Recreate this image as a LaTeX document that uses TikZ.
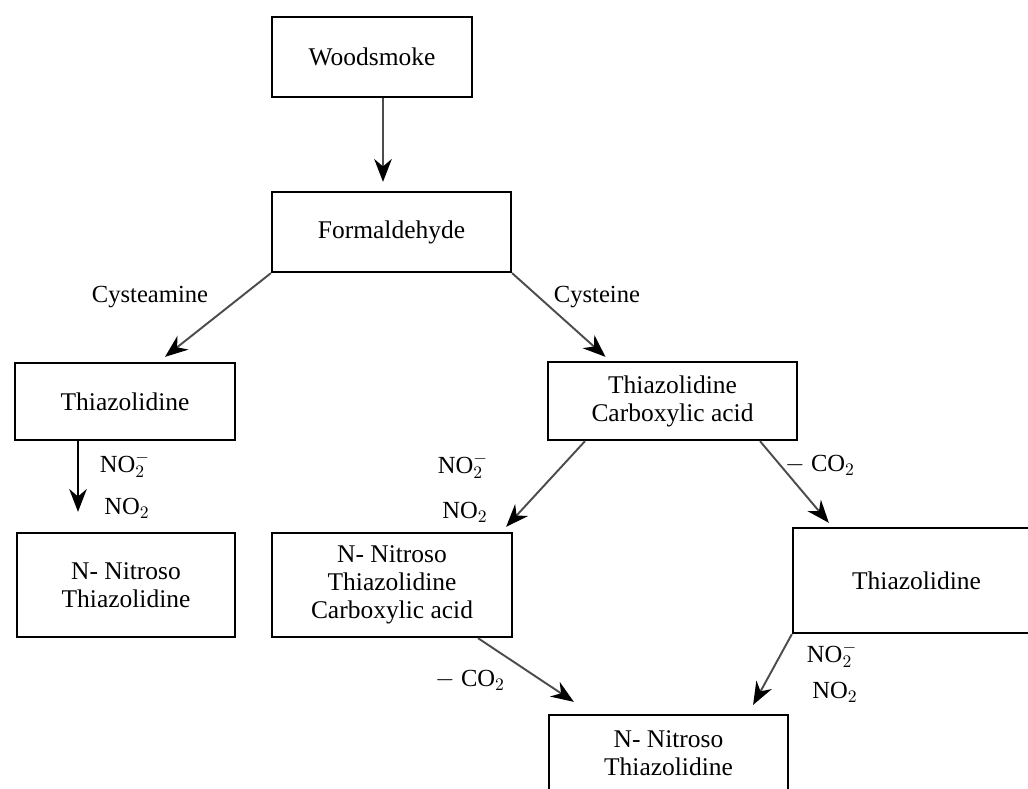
\documentclass[tikz,border=0pt]{standalone}
\usepackage{fontspec}
\setmainfont{Liberation Serif}
\usetikzlibrary{calc,arrows.meta}
\begin{document}
\begin{tikzpicture}[
    x = 0.02cm,
    y = -0.02cm,
    >={Stealth[length=13pt,width=10pt,color=black]},
    box/.style = {draw, line width=1.3pt, align=center, inner sep=0pt,
              font=\fontsize{14.5}{16}\selectfont},
    lbl/.style = {font=\fontsize{14}{16}\selectfont, inner sep=1pt},
    flow/.style = {->, draw=black!70, line width=1.1pt},
    ]

\useasboundingbox (0,0) rectangle (1028,788);

% boxes
\node[box, minimum width=4cm, minimum height=1.6cm] (wood) at (372,57) {Woodsmoke};
\node[box, minimum width=4.78cm, minimum height=1.6cm] (form) at (391.5,232) {Formaldehyde};
\node[box, minimum width=4.4cm, minimum height=1.54cm] (thzL) at (125,401.5) {Thiazolidine};
\node[box, minimum width=4.98cm, minimum height=1.56cm] (thca) at (672.5,401) {Thiazolidine\\Carboxylic acid};
\node[box, minimum width=4.36cm, minimum height=2.08cm] (nntL) at (126,585) {N- Nitroso\\Thiazolidine};
\node[box, minimum width=4.8cm, minimum height=2.08cm] (nntca) at (392,585) {N- Nitroso\\Thiazolidine\\Carboxylic acid};
\node[box, minimum width=4.94cm, minimum height=2.1cm] (thzR) at (916.5,580.5) {Thiazolidine};
\node[box, minimum width=4.78cm, minimum height=1.54cm] (nntB) at (668.5,753.5) {N- Nitroso\\Thiazolidine};

% labels
\node[lbl] (cyst1) at (150,297) {Cysteamine};
\node[lbl] (cyst2) at (597,297) {Cysteine};
\node[lbl] (nitL1) at (125,465) {NO$_2^-$};
\node[lbl] (nitL2) at (127,508) {NO$_2$};
\node[lbl] (nitM1) at (463,466) {NO$_2^-$};
\node[lbl] (nitM2) at (465,512) {NO$_2$};
\node[lbl] (decR) at (820,465) {$-$ CO$_2$};
\node[lbl] (nitR1) at (832,655) {NO$_2^-$};
\node[lbl] (nitR2) at (835,692) {NO$_2$};
\node[lbl] (decM) at (470,680) {$-$ CO$_2$};

% arrows
\draw[flow] ($(wood.south)+(11,0)$) -- ($(form.north)+(-8.5,-9)$);
\draw[flow] (form.south west) -- ($(thzL.north)+(40,-5)$);
\draw[flow] (form.south east) -- ($(thca.north)+(-67,-4)$);
\draw[flow, draw=black] ($(thzL.south)+(-47,0)$) -- ($(nntL.north)+(-48,-20)$);
\draw[flow] ($(thca.south)+(-87.5,0)$) -- ($(nntca.north east)+(-7,-5)$);
\draw[flow] ($(thca.south)+(87.5,0)$) -- ($(thzR.north west)+(37,-4)$);
\draw[flow] (thzR.south west) -- ($(nntB.north east)+(-36,-9)$);
\draw[flow] ($(nntca.south)+(86,0)$) -- ($(nntB.north west)+(26,-12)$);

\end{tikzpicture}
\end{document}
